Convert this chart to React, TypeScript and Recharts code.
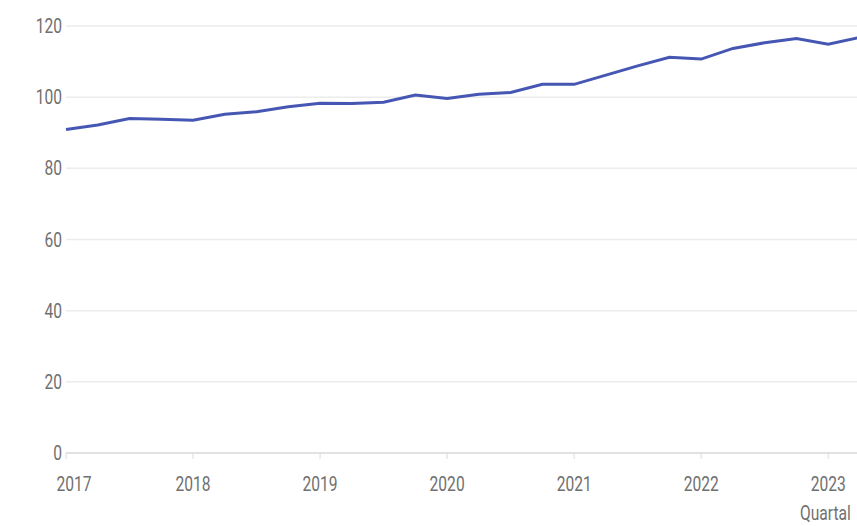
import { CartesianGrid, Line, LineChart, XAxis, YAxis } from "recharts";

const YEARS = ["2017", "2018", "2019", "2020", "2021", "2022", "2023"];
const QUARTER_INDEX = [
  0, 1, 2, 3, 4, 5, 6, 7, 8, 9, 10, 11, 12, 13, 14, 15, 16, 17, 18, 19, 20, 21, 22, 23, 24, 25,
];
const INDEX_VALUES = [
  90.9, 92.2, 94.0, 93.8, 93.5, 95.2, 95.9, 97.3, 98.3, 98.2, 98.6, 100.6, 99.6, 100.8, 101.3,
  103.6, 103.6, 106.2, 108.8, 111.2, 110.7, 113.7, 115.3, 116.5, 114.9, 116.8,
];
const Y_TICKS = [0, 20, 40, 60, 80, 100, 120];
const X_TICKS = [0, 4, 8, 12, 16, 20, 24];

const LINE_COLOR = "#4657b3";
const TEXT_COLOR = "#707070";
const GRID_COLOR = "#ececec";
const FONT = "Roboto, 'Noto Sans', sans-serif";
const NARROW = 0.78; // no condensed face installed, so squeeze the text

const data = QUARTER_INDEX.map((q, i) => ({ q, value: INDEX_VALUES[i] }));

function NarrowText({ x, y, anchor, dy, children }: any) {
  return (
    <g transform={`translate(${x},${y}) scale(${NARROW},1)`}>
      <text x={0} y={0} dy={dy} textAnchor={anchor} fill={TEXT_COLOR} fontSize={20} fontFamily={FONT}>
        {children}
      </text>
    </g>
  );
}

function YearTick(props: any) {
  const { x, y, payload, index } = props;
  // first label sits a bit to the right, clear of the axis edge
  const shift = index === 0 ? 8 : 0;
  return (
    <NarrowText x={x + shift} y={y} anchor="middle" dy="0.71em">
      {YEARS[payload.value / 4]}
    </NarrowText>
  );
}

function ValueTick(props: any) {
  const { x, y, payload } = props;
  return (
    <NarrowText x={x} y={y} anchor="end" dy="0.355em">
      {payload.value}
    </NarrowText>
  );
}

export default function App() {
  return (
    <div
      style={{
        position: "absolute",
        left: 0,
        top: 0,
        width: 857,
        height: 526,
        overflow: "hidden",
        background: "#fff",
      }}
    >
      <LineChart
        width={870}
        height={526}
        data={data}
        margin={{ top: 26, right: 10, left: 0, bottom: 23 }}
      >
        <CartesianGrid vertical={false} stroke={GRID_COLOR} strokeWidth={1.5} />
        <XAxis
          dataKey="q"
          type="number"
          domain={[0, 25]}
          ticks={X_TICKS}
          height={50}
          tickSize={6}
          tickMargin={18}
          tickLine={{ stroke: "#dcdcdc" }}
          axisLine={{ stroke: "#e2e2e2", strokeWidth: 2 }}
          tick={<YearTick />}
          interval={0}
        />
        <YAxis
          domain={[0, 120]}
          ticks={Y_TICKS}
          width={66}
          tickSize={0}
          tickMargin={4}
          axisLine={false}
          tickLine={false}
          tick={<ValueTick />}
        />
        <Line
          type="linear"
          dataKey="value"
          stroke={LINE_COLOR}
          strokeWidth={3}
          dot={false}
          isAnimationActive={false}
        />
      </LineChart>
      <div
        style={{
          position: "absolute",
          left: 800,
          top: 502,
          fontFamily: FONT,
          fontSize: 20,
          lineHeight: "22px",
          color: TEXT_COLOR,
          whiteSpace: "nowrap",
          transform: `scaleX(${NARROW})`,
          transformOrigin: "left top",
        }}
      >
        Quartal
      </div>
    </div>
  );
}
